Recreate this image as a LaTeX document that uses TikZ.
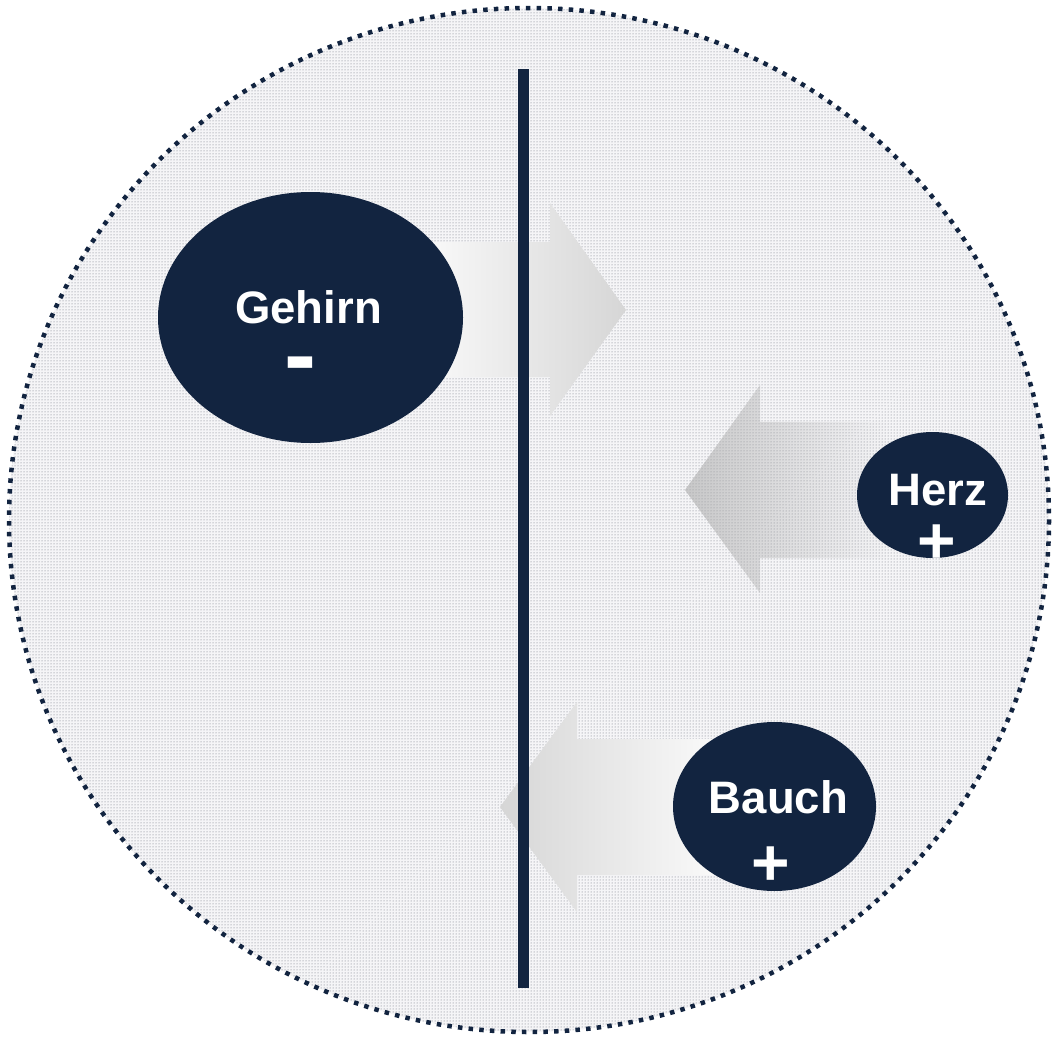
\documentclass[tikz,border=0pt]{standalone}
\usepackage{fontspec}
\setmainfont{Liberation Sans}
\usetikzlibrary{shapes.geometric,patterns,fadings}
\definecolor{navy}{RGB}{18,36,64}
\definecolor{bgfill}{RGB}{245,245,247}
\definecolor{dotcol}{RGB}{105,110,122}
\definecolor{arrlight}{RGB}{250,250,250}
\definecolor{arrdark}{RGB}{214,214,214}
\definecolor{arrghost}{RGB}{170,170,170}
\tikzfading[name=herzfade, left color=transparent!40, right color=transparent!100]
\tikzset{
  blob/.style={ellipse, fill=navy, draw=none, inner sep=0pt},
  word/.style={text=white, font=\bfseries\fontsize{45.5}{50}\selectfont, inner sep=0pt, anchor=base},
  sign/.style={text=white, font=\bfseries\fontsize{66}{70}\selectfont, inner sep=0pt, anchor=base},
  minussign/.style={text=white, font=\bfseries\fontsize{96}{100}\selectfont, inner sep=0pt, anchor=base},
  divider/.style={draw=navy, line width=11pt},
  rim/.style={draw=navy, line width=4.5pt, dash pattern=on 4.5pt off 6.2pt},
}
\begin{document}
\begin{tikzpicture}[x=1pt,y=-1pt]
\useasboundingbox (0,0) rectangle (1053,1039);
% background disc
\fill[bgfill] (529,520) ellipse [x radius=520, y radius=512];
\fill[pattern=dots, pattern color=dotcol] (529,520) ellipse [x radius=520, y radius=512];
% arrows
\shade[left color=arrlight, right color=arrdark]
  (420,242) -- (550,242) -- (550,203) -- (626,310) -- (550,416) -- (550,377) -- (420,377) -- cycle;
\shade[left color=arrdark, right color=arrlight]
  (500,807) -- (577,702) -- (577,739) -- (720,739) -- (720,875) -- (577,875) -- (577,912) -- cycle;
\fill[arrghost, path fading=herzfade]
  (685,490) -- (760,385) -- (760,422) -- (890,422) -- (890,558) -- (760,558) -- (760,593) -- cycle;
% divider
\coordinate (dtop) at (523.5,69);
\coordinate (dbot) at (523.5,988);
\draw[divider] (dtop) -- (dbot);
% ellipses
\node[blob, minimum width=305pt, minimum height=251pt] (gehirn) at (310.5,317.5) {};
\node[blob, minimum width=151pt, minimum height=126pt] (herz) at (932.5,495) {};
\node[blob, minimum width=203pt, minimum height=169pt] (bauch) at (774.5,806.5) {};
% labels
\node[word] (gehirntxt) at (308.5,323) {Gehirn};
\node[minussign] (gehirnsign) at (300,387.5) {-};
\node[word] (herztxt) at (937.5,505) {Herz};
\node[sign] (herzsign) at (937,563) {+};
\node[word] (bauchtxt) at (778.5,813) {Bauch};
\node[sign] (bauchsign) at (770.5,885) {+};
% rim
\draw[rim] (529,520) ellipse [x radius=520, y radius=512];
\end{tikzpicture}
\end{document}
